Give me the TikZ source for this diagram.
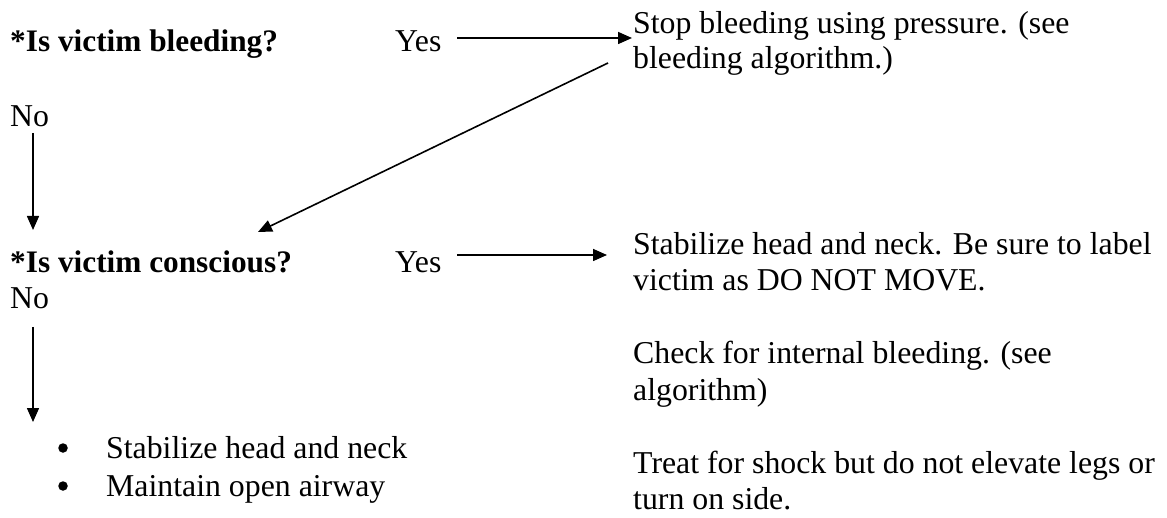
\documentclass[tikz,border=0pt]{standalone}
\usepackage{fontspec}
\setmainfont{Liberation Serif}
\usetikzlibrary{arrows.meta,calc}
\tikzset{
  txt/.style={anchor=base west,inner sep=0pt,font=\fontsize{31.8}{36}\selectfont},
  hd/.style={anchor=base west,inner sep=0pt,font=\fontsize{31.3}{36}\selectfont\bfseries},
  dot/.style={circle,fill=black,inner sep=0pt,minimum size=9.5pt},
  arr/.style={line width=1.6pt,-{Triangle[length=14pt,width=12pt]}}
}
\begin{document}
\begin{tikzpicture}[x=1pt,y=-1pt]
\useasboundingbox (0,0) rectangle (1167,518);
% left column
\node[hd] (h1) at (10,52) {*Is victim bleeding?};
\node[txt] (yes1) at (395,52) {Yes};
\node[txt] (no1) at (10,127) {No};
\node[hd] (h2) at (10,273) {*Is victim conscious?};
\node[txt] (yes2) at (395,273) {Yes};
\node[txt] (no2) at (10,309) {No};
\node[dot] (b1) at (63,448) {};
\node[txt] (s1) at (106,458) {Stabilize head and neck};
\node[dot] (b2) at (63,486) {};
\node[txt] (s2) at (106,496) {Maintain open airway};
% right column
\node[txt] (stop1) at (633,34) {Stop bleeding using pressure. (see};
\node[txt] (stop2) at (633,69) {bleeding algorithm.)};
\node[txt] (r1) at (633,255) {Stabilize head and neck. Be sure to label};
\node[txt] (r2) at (633,291) {victim as DO NOT MOVE.};
\node[txt] (r3) at (633,364) {Check for internal bleeding. (see};
\node[txt] (r4) at (633,400) {algorithm)};
\node[txt] (r5) at (633,473) {Treat for shock but do not elevate legs or};
\node[txt] (r6) at (633,509) {turn on side.};
% connectors
\draw[arr] ($(yes1.base west)+(62,-14)$) -- ($(stop1.base west)+(-1,4)$);
\draw[arr] ($(stop2.base west)+(-25,-6)$) -- ($(h2.base west)+(248,-41)$);
\draw[arr] ($(no1.base west)+(23,6)$) -- ($(h2.base west)+(23,-43)$);
\draw[arr] ($(yes2.base west)+(62,-18)$) -- ($(r1.base west)+(-26,0)$);
\draw[arr] ($(no2.base west)+(23,18)$) -- ($(s1.base west)+(-73,-36)$);
\end{tikzpicture}
\end{document}
